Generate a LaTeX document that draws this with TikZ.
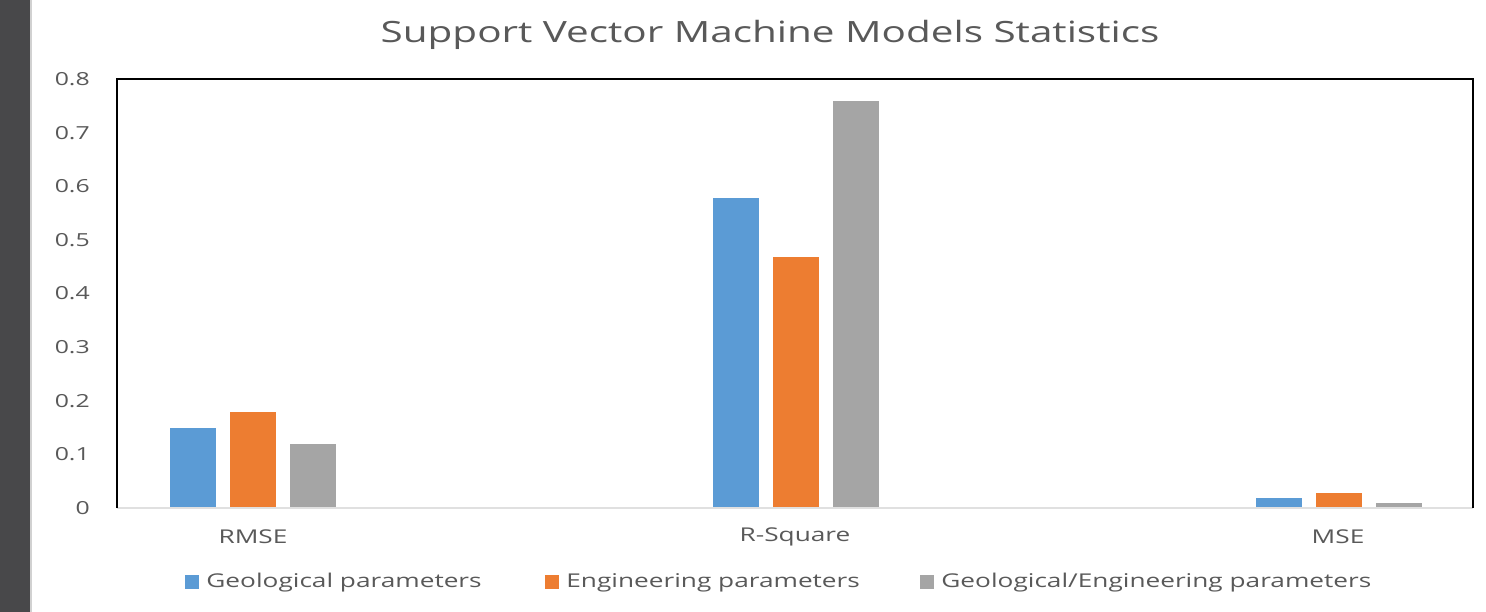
\documentclass[tikz,border=0pt]{standalone}
\usepackage{fontspec}
\setmainfont{Open Sans}
\newfontfamily\chartfont{Open Sans}[FakeStretch=1.38]
\usepackage{xcolor}
\usepackage{tikz}
\usetikzlibrary{positioning, calc}

\definecolor{geoblue}{HTML}{5B9BD5}
\definecolor{engorange}{HTML}{ED7D31}
\definecolor{mixgray}{HTML}{A5A5A5}
\definecolor{txtgray}{HTML}{595959}
\definecolor{sidebar}{HTML}{48484A}

\tikzset{
  bar/.style={draw=white, line width=0.8pt},
  ticklabel/.style={anchor=east, text=txtgray, font=\chartfont\fontsize{18}{20}\selectfont, inner sep=0pt},
  catlabel/.style={text=txtgray, font=\chartfont\fontsize{19}{22}\selectfont, inner sep=0pt},
  legtext/.style={anchor=west, text=txtgray, font=\chartfont\fontsize{19}{22}\selectfont, inner sep=0pt},
  legkey/.style={minimum size=14pt, inner sep=0pt}
}

% value -> picture y (0 at 508, 0.8 at 79)
\newcommand{\valy}[1]{{508-#1*536.25}}

\begin{document}
\begin{tikzpicture}[x=1pt, y=-1pt]
  \useasboundingbox (0,0) rectangle (1486,612);
  \fill[white] (0,0) rectangle (1486,612);
  \fill[sidebar] (0,0) rectangle (30,612);
  \fill[black!18] (30,0) rectangle (32,612);

  % title
  \node[text=txtgray, font=\chartfont\fontsize{29.3}{34}\selectfont] (title) at (770,35) {Support Vector Machine Models Statistics};

  % y axis labels
  \foreach \k/\lab in {0/0, 1/0.1, 2/0.2, 3/0.3, 4/0.4, 5/0.5, 6/0.6, 7/0.7, 8/0.8}
    \node[ticklabel] (tick\k) at (90,{508-\k*53.625}) {\lab};

  % RMSE
  \fill[geoblue, bar] (169,508) rectangle (216,\valy{0.15});
  \fill[engorange, bar] (229,508) rectangle (276,\valy{0.18});
  \fill[mixgray, bar] (289,508) rectangle (336,\valy{0.12});

  % R-Square
  \fill[geoblue, bar] (712,508) rectangle (759,\valy{0.58});
  \fill[engorange, bar] (772,508) rectangle (819,\valy{0.47});
  \fill[mixgray, bar] (832,508) rectangle (879,\valy{0.76});

  % MSE
  \fill[geoblue, bar] (1255,508) rectangle (1302,\valy{0.02});
  \fill[engorange, bar] (1315,508) rectangle (1362,\valy{0.03});
  \fill[mixgray, bar] (1375,508) rectangle (1422,\valy{0.01});

  % frame and axis
  \draw[black!12, line width=2pt] (117,508) -- (1473,508);
  \draw[black, line width=2.5pt] (117,508) -- (117,79) -- (1473,79) -- (1473,508);

  % categories
  \node[catlabel] (rmse) at (253,537) {RMSE};
  \node[catlabel] (rsq) at (795,537) {R-Square};
  \node[catlabel] (mse) at (1338,537) {MSE};

  % legend
  \node[legkey, fill=geoblue] (key1) at (192,582) {};
  \node[legtext, right=7pt of key1, yshift=-1pt] (leg1) {Geological parameters};
  \node[legkey, fill=engorange] (key2) at (552,582) {};
  \node[legtext, right=7pt of key2, yshift=-1pt] (leg2) {Engineering parameters};
  \node[legkey, fill=mixgray] (key3) at (927,582) {};
  \node[legtext, right=7pt of key3, yshift=-1pt] (leg3) {Geological/Engineering parameters};
\end{tikzpicture}
\end{document}
